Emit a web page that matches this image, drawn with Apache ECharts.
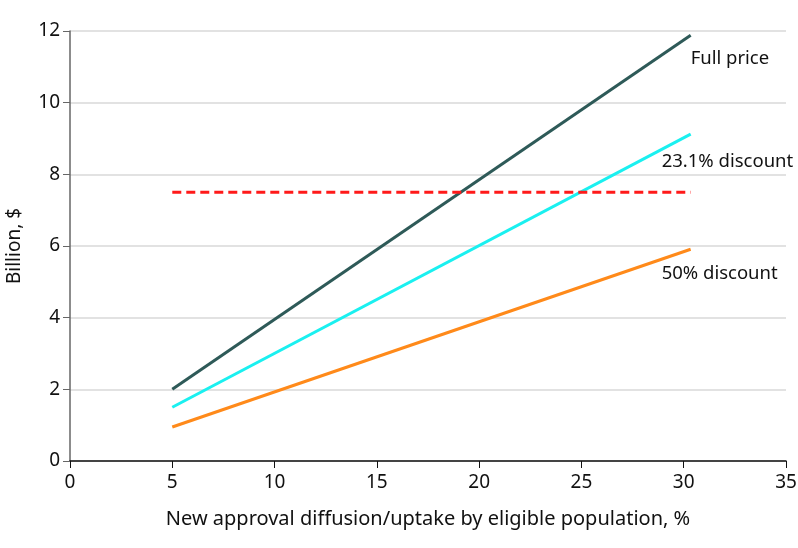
<!DOCTYPE html>
<html>
<head>
<meta charset="utf-8">
<script src="https://cdn.jsdelivr.net/npm/echarts@6/dist/echarts.min.js"></script>
<style>html,body{margin:0;padding:0;background:#fff}#c{width:798px;height:548px}</style>
</head>
<body>
<div id="c"></div>
<script>
var xValues = [5, 30.34];
var fullPrice = [2.0, 11.88];
var discount231 = [1.5, 9.12];
var discount50 = [0.95, 5.91];
var threshold = [7.5, 7.5];
var seriesNames = ['Full price', '23.1% discount', '50% discount'];
var xTicks = [0, 5, 10, 15, 20, 25, 30, 35];
var yTicks = [0, 2, 4, 6, 8, 10, 12];

function pairs(ys) { return xValues.map(function (x, i) { return [x, ys[i]]; }); }

var FONT = 'Noto Sans';
var chart = echarts.init(document.getElementById('c'), null, { renderer: 'canvas' });
function endLbl(text, dx, dy) {
  return { show: true, formatter: text, offset: [dx, dy], color: '#111', fontFamily: FONT, fontSize: 18.5, align: 'left', verticalAlign: 'middle' };
}
chart.setOption({
  animation: false,
  grid: { left: 70, right: 12, top: 31, bottom: 87, containLabel: false, outerBoundsMode: 'none' },
  xAxis: {
    type: 'value', min: 0, max: 35, interval: 5,
    name: 'New approval diffusion/uptake by eligible population, %',
    nameLocation: 'middle', nameGap: 48,
    nameTextStyle: { fontFamily: FONT, fontSize: 20, color: '#111' },
    axisLine: { show: true, lineStyle: { color: '#111', width: 1.5 } },
    axisTick: { show: true, length: 7, lineStyle: { color: '#111' } },
    axisLabel: { fontFamily: FONT, fontSize: 19, color: '#111', margin: 12 },
    splitLine: { show: false }
  },
  yAxis: {
    type: 'value', min: 0, max: 12, interval: 2,
    name: 'Billion, $', nameLocation: 'middle', nameGap: 46,
    nameTextStyle: { fontFamily: FONT, fontSize: 19, color: '#111' },
    axisLine: { show: true, lineStyle: { color: '#666', width: 1.5 } },
    axisTick: { show: true, length: 7, lineStyle: { color: '#666' } },
    axisLabel: { fontFamily: FONT, fontSize: 19, color: '#111', margin: 10 },
    splitLine: { show: true, lineStyle: { color: '#d9d9d9', width: 1.5 } }
  },
  series: [
    { name: seriesNames[0], type: 'line', data: pairs(fullPrice), showSymbol: false, symbol: 'none',
      lineStyle: { color: '#2e5a58', width: 3 }, endLabel: endLbl(seriesNames[0], -8, 23) },
    { name: seriesNames[1], type: 'line', data: pairs(discount231), showSymbol: false, symbol: 'none',
      lineStyle: { color: '#1af0f0', width: 3 }, endLabel: endLbl(seriesNames[1], -37, 28) },
    { name: seriesNames[2], type: 'line', data: pairs(discount50), showSymbol: false, symbol: 'none',
      lineStyle: { color: '#ff8a1a', width: 3 }, endLabel: endLbl(seriesNames[2], -37, 25) },
    { name: 'threshold', type: 'line', data: pairs(threshold), showSymbol: false, symbol: 'none',
      lineStyle: { color: '#ff1a1a', width: 3, type: [9, 5] } }
  ]
});
</script>
</body>
</html>
